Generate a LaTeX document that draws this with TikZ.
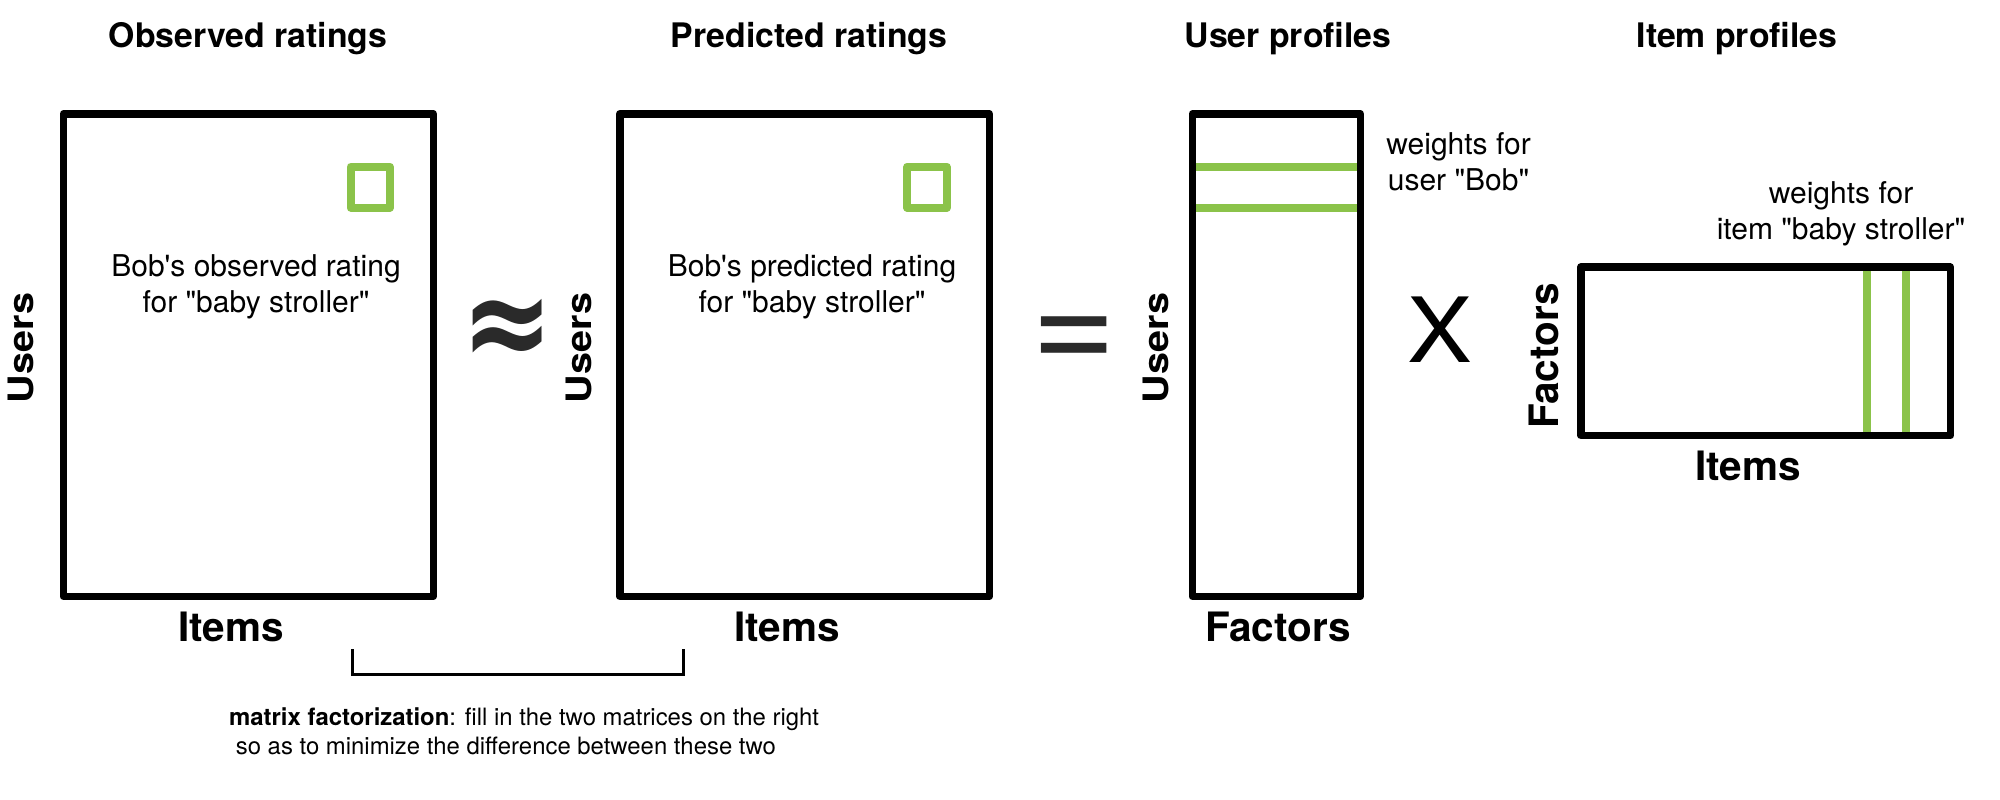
\documentclass[tikz,border=0pt]{standalone}
\usepackage{fontspec}
\usepackage{graphicx}
\setmainfont{TeX Gyre Heros}[Ligatures=TeXOff]
\newfontfamily\dejavu{DejaVu Sans}
\definecolor{mfgreen}{RGB}{139,195,74}
\definecolor{opgrey}{RGB}{42,42,42}
\begin{document}
\begin{tikzpicture}[x=1pt,y=-1pt,
  matbox/.style={draw=black,line width=7.5pt,inner sep=0pt,outer sep=0pt,line join=round},
  cellbox/.style={draw=mfgreen,line width=8pt,inner sep=0pt,outer sep=0pt,line join=round},
  gline/.style={draw=mfgreen,line width=8pt},
  titletxt/.style={font=\bfseries\fontsize{33.8}{40}\selectfont,anchor=base},
  axistxt/.style={font=\bfseries\fontsize{40.5}{48}\selectfont,anchor=base},
  usertxt/.style={font=\bfseries\fontsize{35}{42}\selectfont,anchor=base,rotate=90},
  notetxt/.style={font=\fontsize{30}{36}\selectfont,align=center,anchor=base},
  optxt/.style={text=opgrey,inner sep=0pt,anchor=center},
]
\useasboundingbox (0,0) rectangle (2000,800);

% titles
\node[titletxt] (t1) at (248,48) {Observed ratings};
\node[titletxt] (t2) at (809,48) {Predicted ratings};
\node[titletxt] (t3) at (1288,48) {User profiles};
\node[titletxt] (t4) at (1737,48) {Item profiles};

% green marks
\draw[gline] (1196,166.8) -- (1356.5,166.8);
\draw[gline] (1196,208) -- (1356.5,208);
\draw[gline] (1866.5,271) -- (1866.5,432);
\draw[gline] (1905.5,271) -- (1905.5,432);

% matrices
\node[matbox,minimum width=370pt,minimum height=482.5pt] (obs) at (248.25,355) {};
\node[matbox,minimum width=369.5pt,minimum height=482.5pt] (pred) at (804.5,355) {};
\node[matbox,minimum width=168pt,minimum height=482.5pt] (users) at (1276.25,355) {};
\node[matbox,minimum width=369.5pt,minimum height=168.5pt] (items) at (1765.5,351.25) {};

% cells
\node[cellbox,minimum width=39.3pt,minimum height=41pt] (c1) at (370.35,187.2) {};
\node[cellbox,minimum width=39.3pt,minimum height=41pt] (c2) at (927,187.2) {};

% texts (anchor base = last line)
\node[notetxt] (o1) at (256,312) {Bob's observed rating\\for "baby stroller"};
\node[notetxt] (p1) at (812,312) {Bob's predicted rating\\for "baby stroller"};
\node[notetxt] (wb) at (1458.5,190) {weights for\\user "Bob"};
\node[notetxt] (wi) at (1841,239) {weights for\\item "baby stroller"};

% axis labels
\node[axistxt] (i1) at (231,641) {Items};
\node[axistxt] (i2) at (787,641) {Items};
\node[axistxt] (f3) at (1278,641) {Factors};
\node[axistxt] (i4) at (1748,480) {Items};
\node[usertxt] (u1) at (34,348) {\scalebox{1.13}[1]{Users}};
\node[usertxt] (u2) at (591,348) {\scalebox{1.13}[1]{Users}};
\node[usertxt] (u3) at (1168,348) {\scalebox{1.13}[1]{Users}};
\node[axistxt,rotate=90] (f4) at (1558,356) {Factors};

% operators
\node[optxt,font=\dejavu\bfseries\fontsize{110}{110}\selectfont] (ap) at (507.5,333) {\scalebox{1}[1.2]{≈}};
\node[optxt,anchor=base,font=\fontsize{146}{146}\selectfont] (eq) at (1074.5,371) {=};
\node[optxt,text=black,font=\fontsize{90}{90}\selectfont] (xx) at (1439.5,330) {\scalebox{1.08}[1]{X}};

% bracket
\coordinate (bl) at (352.5,649.3);
\coordinate (br) at (683.6,649.3);
\draw[line width=3.5pt] (bl) -- ++(0,25) -| (br);

% caption
\node[anchor=base west,align=left,inner sep=0pt,font=\fontsize{23.9}{29}\selectfont] (cap) at (229,754)
  {\textbf{matrix factorization}: fill in the two matrices on the right\\\ so as to minimize the difference between these two};
\end{tikzpicture}
\end{document}
